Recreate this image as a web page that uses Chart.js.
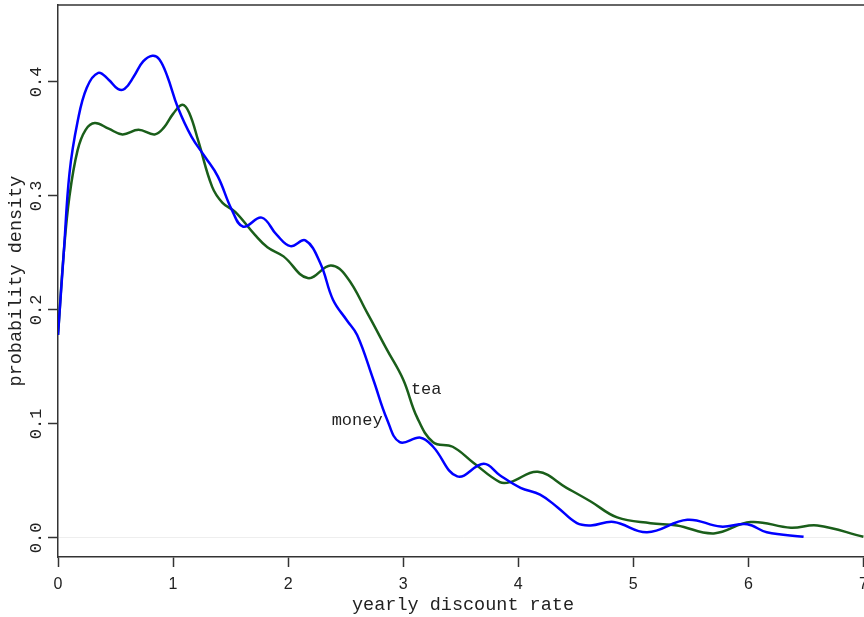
<!DOCTYPE html>
<html>
<head>
<meta charset="utf-8">
<script src="https://cdn.jsdelivr.net/npm/chart.js@4"></script>
<style>
  html, body { margin: 0; padding: 0; background: #fff; overflow: hidden; }
  #wrap { width: 864px; height: 617px; overflow: hidden; }
</style>
</head>
<body>
<div id="wrap"><canvas id="density-chart" width="880" height="617"></canvas></div>
<script>
// yearly discount rate vs. probability density
const moneyRate = [0.0, 0.05, 0.10, 0.17, 0.25, 0.35, 0.44, 0.52, 0.58, 0.66, 0.74, 0.82, 0.88, 0.95, 1.04, 1.16, 1.28, 1.39, 1.51, 1.61, 1.77, 1.90, 2.02, 2.15, 2.28, 2.39, 2.51, 2.60, 2.74, 2.86, 2.97, 3.15, 3.26, 3.47, 3.70, 3.84, 4.02, 4.19, 4.34, 4.51, 4.63, 4.83, 5.12, 5.47, 5.76, 5.99, 6.16, 6.48];
const moneyDensity = [0.178, 0.25, 0.32, 0.365, 0.395, 0.408, 0.402, 0.394, 0.394, 0.405, 0.418, 0.423, 0.420, 0.405, 0.378, 0.352, 0.334, 0.317, 0.288, 0.273, 0.281, 0.266, 0.256, 0.261, 0.241, 0.209, 0.191, 0.178, 0.139, 0.104, 0.084, 0.088, 0.080, 0.054, 0.065, 0.055, 0.044, 0.038, 0.027, 0.013, 0.011, 0.014, 0.005, 0.016, 0.010, 0.012, 0.005, 0.001];

const teaRate = [0.0, 0.05, 0.10, 0.17, 0.24, 0.32, 0.44, 0.56, 0.70, 0.84, 0.92, 1.00, 1.08, 1.14, 1.22, 1.34, 1.43, 1.54, 1.71, 1.82, 1.96, 2.17, 2.37, 2.51, 2.69, 2.86, 3.00, 3.12, 3.26, 3.43, 3.61, 3.84, 3.93, 4.17, 4.42, 4.63, 4.86, 5.15, 5.38, 5.70, 6.02, 6.37, 6.60, 7.00];
const teaDensity = [0.178, 0.25, 0.30, 0.34, 0.358, 0.364, 0.359, 0.354, 0.358, 0.354, 0.360, 0.372, 0.380, 0.373, 0.348, 0.308, 0.294, 0.286, 0.266, 0.255, 0.247, 0.228, 0.239, 0.229, 0.197, 0.165, 0.139, 0.106, 0.084, 0.080, 0.066, 0.049, 0.049, 0.058, 0.044, 0.032, 0.018, 0.013, 0.011, 0.004, 0.014, 0.009, 0.011, 0.001];

const xTicks = [0, 1, 2, 3, 4, 5, 6, 7];
const yTicks = [0.0, 0.1, 0.2, 0.3, 0.4];

// curve labels placed next to the lines
const labelText = ["money", "tea"];
const labelRate = [2.6, 3.2];
const labelDensity = [0.103, 0.130];

const axisColor = "#333";
const mono = "'Liberation Mono', 'DejaVu Sans Mono', monospace";

function toPoints(xs, ys) {
    return xs.map((x, i) => ({ x: x, y: ys[i] }));
}

// top edge of the plot box and the text labels
const boxAndLabels = {
    id: "boxAndLabels",
    afterDatasetsDraw(chart) {
        const { ctx, chartArea, scales } = chart;
        ctx.save();
        ctx.strokeStyle = axisColor;
        ctx.lineWidth = 1.5;
        ctx.beginPath();
        ctx.moveTo(chartArea.left, chartArea.top);
        ctx.lineTo(chartArea.right, chartArea.top);
        ctx.stroke();

        ctx.fillStyle = "#222";
        ctx.font = "17px " + mono;
        ctx.textAlign = "center";
        ctx.textBaseline = "middle";
        labelText.forEach((t, i) => {
            ctx.fillText(t, scales.x.getPixelForValue(labelRate[i]), scales.y.getPixelForValue(labelDensity[i]));
        });
        ctx.restore();
    },
};

new Chart(document.getElementById("density-chart"), {
    type: "scatter",
    data: {
        datasets: [
            {
                label: "money",
                data: toPoints(moneyRate, moneyDensity),
                showLine: true,
                borderColor: "#0000ff",
                borderWidth: 2.5,
                pointRadius: 0,
                tension: 0.4,
            },
            {
                label: "tea",
                data: toPoints(teaRate, teaDensity),
                showLine: true,
                borderColor: "#1a5e1a",
                borderWidth: 2.5,
                pointRadius: 0,
                tension: 0.4,
            },
        ],
    },
    options: {
        responsive: false,
        animation: false,
        layout: { padding: { top: 5, right: 12, left: 0, bottom: 0 } },
        plugins: {
            legend: { display: false },
            tooltip: { enabled: false },
        },
        scales: {
            x: {
                type: "linear",
                min: 0,
                max: 7.04,
                afterBuildTicks: (scale) => {
                    scale.ticks = xTicks.map((v) => ({ value: v }));
                },
                afterFit: (scale) => {
                    scale.height = 60;
                },
                grid: {
                    drawOnChartArea: false,
                    tickLength: 10,
                    tickColor: axisColor,
                    tickWidth: 1.5,
                },
                border: { color: axisColor, width: 1.5 },
                ticks: {
                    padding: 8,
                    color: "#222",
                    font: { family: "'Liberation Sans Narrow', 'Liberation Sans', sans-serif", size: 16 },
                    maxRotation: 0,
                },
                title: {
                    display: true,
                    text: "yearly discount rate",
                    color: "#222",
                    font: { family: mono, size: 18.5 },
                    padding: { top: 0, bottom: 1 },
                },
            },
            y: {
                type: "linear",
                min: -0.0167,
                max: 0.4675,
                afterBuildTicks: (scale) => {
                    scale.ticks = yTicks.map((v) => ({ value: v }));
                },
                afterFit: (scale) => {
                    scale.width = 58;
                    scale.paddingTop = 0;
                    scale.paddingBottom = 0;
                },
                grid: {
                    color: (ctx) => (ctx.tick && ctx.tick.value === 0 ? "#eeeeee" : "rgba(0,0,0,0)"),
                    tickLength: 10,
                    tickColor: axisColor,
                    tickWidth: 1.5,
                },
                border: { color: axisColor, width: 1.5 },
                ticks: {
                    padding: -4,
                    color: "#222",
                    crossAlign: "center",
                    minRotation: 90,
                    maxRotation: 90,
                    font: { family: mono, size: 17 },
                    callback: (v) => v.toFixed(1),
                },
                title: {
                    display: true,
                    text: "probability density",
                    color: "#222",
                    font: { family: mono, size: 18.5 },
                    padding: { top: 5, bottom: 0 },
                },
            },
        },
    },
    plugins: [boxAndLabels],
});
</script>
</body>
</html>
